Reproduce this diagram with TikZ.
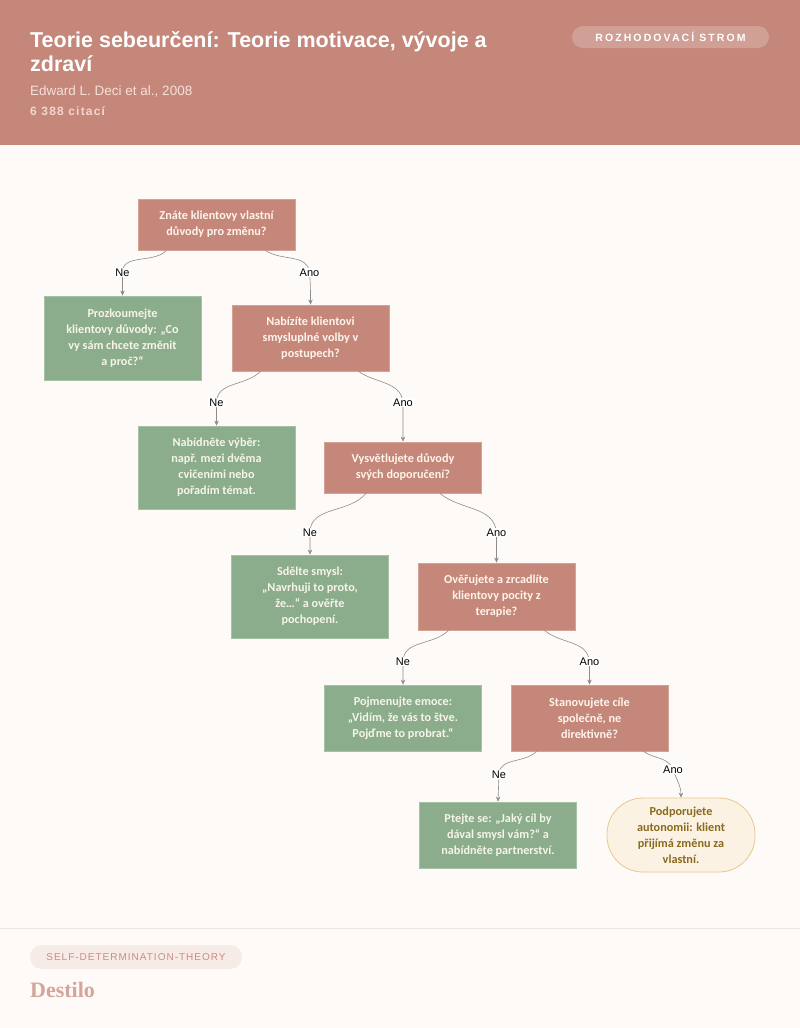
\documentclass[tikz,border=0pt]{standalone}
\usepackage{fontspec}
\setmainfont{Liberation Sans}
\newfontfamily\nodefont{Carlito}
\newfontfamily\spacedfont[LetterSpace=20]{Liberation Sans}
\newfontfamily\footfont[LetterSpace=10]{Liberation Sans}
\newfontfamily\citefont[LetterSpace=10]{Liberation Sans}
\newfontfamily\brandfont{Liberation Serif}
\usetikzlibrary{arrows.meta,calc}
\definecolor{bg}{HTML}{FEFAF7}
\definecolor{header}{HTML}{C4877A}
\definecolor{pillfill}{HTML}{D09F95}
\definecolor{qfill}{HTML}{C4877A}
\definecolor{qborder}{HTML}{D6A295}
\definecolor{qtext}{HTML}{FFF4EC}
\definecolor{lfill}{HTML}{8BAD8C}
\definecolor{lborder}{HTML}{A6C2A6}
\definecolor{ltext}{HTML}{F7F4EA}
\definecolor{tfill}{HTML}{FCF2E3}
\definecolor{tborder}{HTML}{E8C890}
\definecolor{ttext}{HTML}{8A6A1F}
\definecolor{edgegray}{HTML}{8C8C8C}
\definecolor{authortext}{HTML}{F6E0DA}
\definecolor{citetext}{HTML}{F2D6CF}
\definecolor{footline}{HTML}{EFE6E2}
\definecolor{footpill}{HTML}{F6EBE7}
\definecolor{foottext}{HTML}{C98E80}
\definecolor{brand}{HTML}{D4A59A}
\begin{document}
\begin{tikzpicture}[x=1pt,y=-1pt,
  box/.style={inner sep=0pt, align=center, font=\nodefont\bfseries\fontsize{12.2}{16}\selectfont, line width=0.8pt},
  qbox/.style={box, draw=qborder, fill=qfill, text=qtext, minimum width=157pt},
  lbox/.style={box, draw=lborder, fill=lfill, text=ltext, minimum width=157pt},
  tbox/.style={box, draw=tborder, fill=tfill, text=ttext, minimum width=148pt, minimum height=74pt, rounded corners=36pt},
  edge/.style={draw=edgegray, line width=0.6pt, -{Stealth[length=5pt,width=4.5pt]}},
  lbl/.style={fill=white, inner sep=1pt, text=black, font=\fontsize{11}{12}\selectfont}
]
\useasboundingbox (0,0) rectangle (800,1028);
\fill[bg] (0,0) rectangle (800,1028);
\fill[header] (0,0) rectangle (800,145);
% header texts
\node[anchor=base west, inner sep=0pt, text=white, font=\bfseries\fontsize{21.5}{24}\selectfont] (title1) at (30,47) {Teorie sebeurčení: Teorie motivace, vývoje a};
\node[anchor=base west, inner sep=0pt, text=white, font=\bfseries\fontsize{21.5}{24}\selectfont] (title2) at (30,71) {zdraví};
\node[anchor=base west, inner sep=0pt, text=authortext, font=\fontsize{13.5}{15}\selectfont] (author) at (30,95) {Edward L. Deci et al., 2008};
\node[anchor=base west, inner sep=0pt, text=citetext, font=\citefont\bfseries\fontsize{12}{14}\selectfont] (cite) at (30,115.5) {6 388 citací};
\node[fill=pillfill, rounded corners=11pt, minimum width=197pt, minimum height=22pt, inner sep=0pt, text=white, font=\spacedfont\bfseries\fontsize{10.5}{12}\selectfont] (pill) at (670.5,37) {ROZHODOVACÍ STROM};

% nodes
\node[qbox, minimum height=51pt] (q1) at (216.5,224.5) {Znáte klientovy vlastní\\důvody pro změnu?};
\node[lbox, minimum height=84pt] (l1) at (122.5,338) {Prozkoumejte\\klientovy důvody: „Co\\vy sám chcete změnit\\a proč?“};
\node[qbox, minimum height=66pt] (q2) at (310.5,338) {Nabízíte klientovi\\smysluplné volby v\\postupech?};
\node[lbox, minimum height=83pt] (l2) at (216.5,467.5) {Nabídněte výběr:\\např. mezi dvěma\\cvičeními nebo\\pořadím témat.};
\node[qbox, minimum height=51pt] (q3) at (403,467.5) {Vysvětlujete důvody\\svých doporučení?};
\node[lbox, minimum height=83pt] (l3) at (310,596.5) {Sdělte smysl:\\„Navrhuji to proto,\\že…“ a ověřte\\pochopení.};
\node[qbox, minimum height=67pt] (q4) at (496.5,596.5) {Ověřujete a zrcadlíte\\klientovy pocity z\\terapie?};
\node[lbox, minimum height=66pt] (l4) at (403,718) {Pojmenujte emoce:\\„Vidím, že vás to štve.\\Pojďme to probrat.“};
\node[qbox, minimum height=66pt] (q5) at (589.5,718) {Stanovujete cíle\\společně, ne\\direktivně?};
\node[lbox, minimum height=66pt] (l5) at (498,835) {Ptejte se: „Jaký cíl by\\dával smysl vám?“ a\\nabídněte partnerství.};
\node[tbox] (t) at (681,835) {Podporujete\\autonomii: klient\\přijímá změnu za\\vlastní.};

% edges
\draw[edge] ([xshift=-50pt]q1.south) to[out=-135,in=90] ($(l1.north)+(0,-23)$) node[lbl]{Ne} -- (l1.north);
\draw[edge] ([xshift=49pt]q1.south) to[out=-35,in=95] ($(q2.north)+(-1,-32)$) node[lbl]{Ano} to[out=-85,in=90] (q2.north);
\draw[edge] ([xshift=-50pt]q2.south) to[out=-135,in=90] ($(l2.north)+(0,-23)$) node[lbl]{Ne} -- (l2.north);
\draw[edge] ([xshift=48pt]q2.south) to[out=-35,in=95] ($(q3.north)+(0,-39)$) node[lbl]{Ano} -- (q3.north);
\draw[edge] ([xshift=-37pt]q3.south) to[out=-130,in=90] ($(l3.north)+(0,-22)$) node[lbl]{Ne} -- (l3.north);
\draw[edge] ([xshift=37pt]q3.south) to[out=-40,in=95] ($(q4.north)+(0,-30)$) node[lbl]{Ano} -- (q4.north);
\draw[edge] ([xshift=-48pt]q4.south) to[out=-135,in=90] ($(l4.north)+(0,-23)$) node[lbl]{Ne} -- (l4.north);
\draw[edge] ([xshift=48pt]q4.south) to[out=-40,in=95] ($(q5.north)+(0,-23)$) node[lbl]{Ano} -- (q5.north);
\draw[edge] ([xshift=-53pt]q5.south) to[out=-135,in=90] ($(l5.north)+(1,-27)$) node[lbl]{Ne} -- (l5.north);
\draw[edge] ([xshift=54pt]q5.south) to[out=-35,in=110] ($(t.north)+(-8,-28)$) node[lbl]{Ano} to[out=-70,in=90] (t.north);

% footer
\draw[footline, line width=1pt] (0,928) -- (800,928);
\node[fill=footpill, rounded corners=12pt, minimum width=212pt, minimum height=24pt, inner sep=0pt, text=foottext, font=\footfont\fontsize{10}{12}\selectfont] (tag) at (136,957) {SELF-DETERMINATION-THEORY};
\node[anchor=base west, inner sep=0pt, text=brand, font=\brandfont\bfseries\fontsize{22}{24}\selectfont] (brandname) at (30,997) {Destilo};
\end{tikzpicture}
\end{document}
